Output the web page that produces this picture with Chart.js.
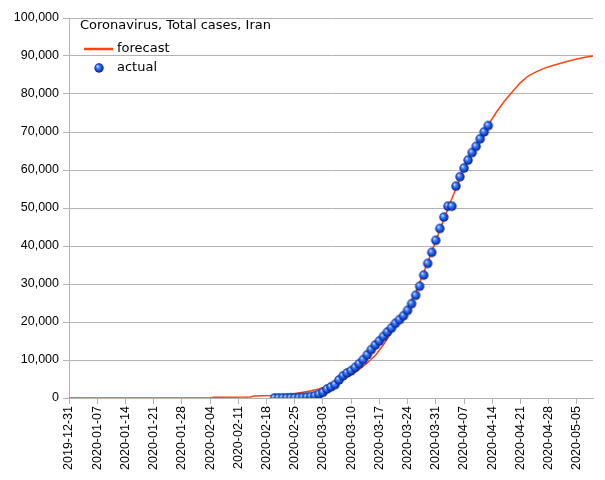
<!DOCTYPE html>
<html>
<head>
<meta charset="utf-8">
<script src="https://cdn.jsdelivr.net/npm/chart.js@4"></script>
<style>
  html, body { margin: 0; padding: 0; background: #ffffff; }
  #wrap { width: 605px; height: 480px; position: relative; }
</style>
</head>
<body>
<div id="wrap"><canvas id="c" width="605" height="480"></canvas></div>
<script>
// ---- data ----
const chartTitle = "Coronavirus, Total cases, Iran";
const seriesNames = ["forecast", "actual"];

const tickLabels = ["2019-12-31","2020-01-07","2020-01-14","2020-01-21","2020-01-28","2020-02-04",
  "2020-02-11","2020-02-18","2020-02-25","2020-03-03","2020-03-10","2020-03-17","2020-03-24",
  "2020-03-31","2020-04-07","2020-04-14","2020-04-21","2020-04-28","2020-05-05"];
const axisEndDate = "2020-05-09";
const yTicks = [0,10000,20000,30000,40000,50000,60000,70000,80000,90000,100000];

const forecastDates = ["2019-12-31","2020-02-04","2020-02-05","2020-02-14","2020-02-15","2020-02-19",
  "2020-02-22","2020-02-25","2020-02-27","2020-02-29","2020-03-02","2020-03-04","2020-03-06",
  "2020-03-08","2020-03-10","2020-03-12","2020-03-14","2020-03-16","2020-03-18","2020-03-20",
  "2020-03-22","2020-03-24","2020-03-26","2020-03-28","2020-03-30","2020-04-01","2020-04-03",
  "2020-04-05","2020-04-07","2020-04-09","2020-04-11","2020-04-13","2020-04-15","2020-04-17",
  "2020-04-19","2020-04-21","2020-04-23","2020-04-25","2020-04-27","2020-04-29","2020-05-01",
  "2020-05-03","2020-05-05","2020-05-07","2020-05-09"];
const forecastValues = [0,0,200,250,500,650,
  850,1100,1500,1900,2400,3100,4000,
  5000,6100,7500,9200,11200,14000,17300,
  20500,23800,27800,33000,38500,44200,49800,
  55200,60200,64500,68300,71800,75200,78100,
  80600,83000,84800,85900,86800,87500,88100,
  88700,89200,89650,90000];

const actualDates = ["2020-02-20","2020-02-21","2020-02-22","2020-02-23","2020-02-24","2020-02-25",
  "2020-02-26","2020-02-27","2020-02-28","2020-02-29","2020-03-01","2020-03-02","2020-03-03",
  "2020-03-04","2020-03-05","2020-03-06","2020-03-07","2020-03-08","2020-03-09","2020-03-10",
  "2020-03-11","2020-03-12","2020-03-13","2020-03-14","2020-03-15","2020-03-16","2020-03-17",
  "2020-03-18","2020-03-19","2020-03-20","2020-03-21","2020-03-22","2020-03-23","2020-03-24",
  "2020-03-25","2020-03-26","2020-03-27","2020-03-28","2020-03-29","2020-03-30","2020-03-31",
  "2020-04-01","2020-04-02","2020-04-03","2020-04-04","2020-04-05","2020-04-06","2020-04-07",
  "2020-04-08","2020-04-09","2020-04-10","2020-04-11","2020-04-12","2020-04-13"];
const actualValues = [2,5,18,28,43,61,
  95,139,245,388,593,978,1501,
  2336,2922,3513,4747,5823,6566,7161,
  8042,9000,10075,11364,12729,13938,14991,
  16169,17361,18407,19644,20610,21638,23049,
  24811,27017,29406,32332,35408,38309,41495,
  44605,47593,50468,50468,55743,58226,60500,
  62589,64586,66220,68192,70029,71686];

// ---- helpers ----
const origin = Date.UTC(2019, 11, 31);
function dayOf(s) {
  const p = s.split("-").map(Number);
  return Math.round((Date.UTC(p[0], p[1] - 1, p[2]) - origin) / 86400000);
}
const tickDays = tickLabels.map(dayOf);
const xMax = dayOf(axisEndDate);

function makeSphere(r) {
  const s = Math.ceil(r * 2) + 2;
  const c = document.createElement("canvas");
  c.width = s; c.height = s;
  const g = c.getContext("2d");
  const cx = s / 2, cy = s / 2;
  const grad = g.createRadialGradient(cx - r * 0.35, cy - r * 0.4, r * 0.05, cx, cy, r);
  grad.addColorStop(0, "#d8e8ff");
  grad.addColorStop(0.3, "#4a8cf6");
  grad.addColorStop(0.7, "#1446d6");
  grad.addColorStop(1, "#071c78");
  g.fillStyle = grad;
  g.beginPath(); g.arc(cx, cy, r, 0, Math.PI * 2); g.fill();
  return c;
}
const sphere = makeSphere(4.7);

const FORECAST_COLOR = "#ff420e";
const GRID = "#b3b3b3";
const tickFont = { family: "'Liberation Sans', Arial, sans-serif", size: 12.5 };

const legendPlugin = {
  id: "innerLegend",
  afterDraw(chart) {
    const ctx = chart.ctx;
    ctx.save();
    ctx.font = "13px 'DejaVu Sans', sans-serif";
    ctx.fillStyle = "#000000";
    ctx.textBaseline = "middle";
    ctx.textAlign = "left";
    ctx.fillText(chartTitle, 80, 26);
    ctx.strokeStyle = FORECAST_COLOR;
    ctx.lineWidth = 2.5;
    ctx.beginPath(); ctx.moveTo(84, 49); ctx.lineTo(113, 49); ctx.stroke();
    ctx.fillText(seriesNames[0], 117, 49);
    ctx.drawImage(sphere, 99 - sphere.width / 2, 68 - sphere.height / 2);
    ctx.fillText(seriesNames[1], 117, 68);
    ctx.restore();
  }
};

new Chart(document.getElementById("c"), {
  type: "scatter",
  data: {
    datasets: [
      {
        label: seriesNames[1],
        data: actualDates.map((d, i) => ({ x: dayOf(d), y: actualValues[i] })),
        showLine: false,
        pointStyle: sphere,
        pointRadius: 4.7,
        pointHoverRadius: 4.7,
        order: 0
      },
      {
        label: seriesNames[0],
        data: forecastDates.map((d, i) => ({ x: dayOf(d), y: forecastValues[i] })),
        showLine: true,
        borderColor: FORECAST_COLOR,
        borderWidth: 1.5,
        pointRadius: 0,
        pointHoverRadius: 0,
        tension: 0,
        order: 1
      }
    ]
  },
  options: {
    responsive: false,
    animation: false,
    devicePixelRatio: 1,
    layout: { padding: { left: 0, right: 12, top: 18, bottom: 0 } },
    plugins: { legend: { display: false }, tooltip: { enabled: false }, title: { display: false } },
    scales: {
      x: {
        type: "linear",
        min: 0,
        max: xMax,
        afterBuildTicks(scale) { scale.ticks = tickDays.map(v => ({ value: v })); },
        afterFit(scale) { scale.height = 82; },
        ticks: {
          autoSkip: false,
          minRotation: 90,
          maxRotation: 90,
          color: "#000000",
          font: tickFont,
          padding: 2,
          callback(v) { const i = tickDays.indexOf(v); return i >= 0 ? tickLabels[i] : ""; }
        },
        grid: { drawOnChartArea: false, drawTicks: true, tickLength: 6, color: GRID },
        border: { display: true, color: GRID, width: 1 }
      },
      y: {
        type: "linear",
        min: yTicks[0],
        max: yTicks[yTicks.length - 1],
        afterBuildTicks(scale) { scale.ticks = yTicks.map(v => ({ value: v })); },
        afterFit(scale) { scale.width = 69; },
        ticks: {
          color: "#000000",
          font: tickFont,
          padding: 4,
          callback(v) { return v.toLocaleString("en-US"); }
        },
        grid: { drawOnChartArea: true, drawTicks: true, tickLength: 6, color: GRID, lineWidth: 1 },
        border: { display: true, color: GRID, width: 1 }
      }
    }
  },
  plugins: [legendPlugin]
});
</script>
</body>
</html>
